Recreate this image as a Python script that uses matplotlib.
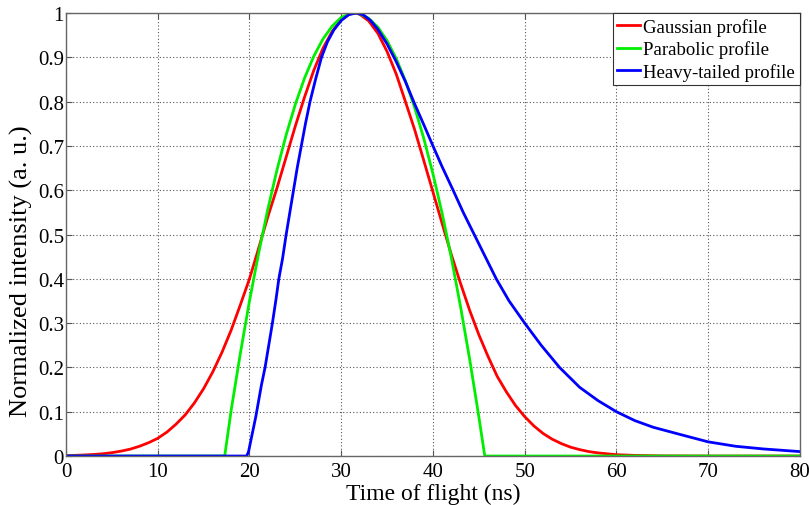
import matplotlib.pyplot as plt

plt.rcParams['font.family'] = ['Liberation Serif', 'DejaVu Serif']

# values
t_gauss = [0, 1, 2, 3, 4, 5, 6, 7, 8, 9, 10, 11, 12, 13, 14, 15, 16, 17, 18, 19, 20,
           21, 22, 23, 24, 25, 26, 27, 28, 29, 30, 31, 31.4, 32, 33, 34, 35, 36, 37,
           38, 39, 40, 41, 42, 43, 44, 45, 46, 47, 48, 49, 50, 51, 52, 53, 54, 55,
           56, 57, 58, 60, 62, 65, 70, 80]
gauss = [0.001, 0.0015, 0.0024, 0.0035, 0.005, 0.0076, 0.011, 0.0155, 0.022, 0.030,
         0.040, 0.054, 0.072, 0.093, 0.12, 0.152, 0.19, 0.234, 0.284, 0.341, 0.40,
         0.469, 0.54, 0.605, 0.675, 0.745, 0.81, 0.87, 0.92, 0.958, 0.985, 0.999, 1.0,
         0.9975, 0.982, 0.954, 0.913, 0.862, 0.80, 0.737, 0.667, 0.596, 0.525, 0.455,
         0.39, 0.329, 0.274, 0.225, 0.18, 0.145, 0.114, 0.089, 0.068, 0.051, 0.038,
         0.028, 0.020, 0.0144, 0.010, 0.007, 0.003, 0.0014, 0.0003, 0.0, 0.0]

t_parab = [0, 17.3, 18, 19, 20, 21, 22, 23, 24, 25, 26, 27, 28, 29, 30, 31, 31.45,
           32, 33, 34, 35, 36, 37, 38, 39, 40, 41, 42, 43, 44, 45, 45.65, 80]
parab = [0, 0, 0.103, 0.231, 0.35, 0.458, 0.557, 0.646, 0.725, 0.794, 0.853, 0.902,
         0.941, 0.970, 0.990, 0.999, 1.0,
         0.9985, 0.988, 0.968, 0.9375, 0.897, 0.847, 0.787, 0.717, 0.637, 0.548,
         0.448, 0.338, 0.219, 0.089, 0, 0]

t_heavy = [0, 19.7, 19.9, 20.1, 20.4, 20.7, 21.0, 21.3, 21.7, 22.1, 22.5, 22.9, 23.2,
           23.6, 24.0, 24.4, 24.8, 25.2, 25.65, 26.1, 26.6, 27.2, 27.85, 28.5, 29.2,
           30.0, 30.8, 31.6, 32.4, 33.2, 34.0, 35.0, 36.0, 37.0, 38.0, 39.0, 40.0,
           41.0, 42.2, 43.3, 44.5, 45.7, 46.9, 48.3, 50.0, 51.8, 53.8, 56.0, 58.0,
           60.0, 62.0, 64.0, 66.7, 70.0, 73.0, 76.0, 80.0]
heavy = [0, 0, 0.01, 0.03, 0.06, 0.09, 0.125, 0.16, 0.20, 0.25, 0.30, 0.355, 0.40,
         0.445, 0.50, 0.55, 0.60, 0.65, 0.70, 0.75, 0.80, 0.85, 0.90, 0.935, 0.962,
         0.983, 0.996, 1.0, 0.996, 0.983, 0.963, 0.93, 0.89, 0.845, 0.795, 0.748, 0.70,
         0.653, 0.60, 0.55, 0.50, 0.45, 0.40, 0.35, 0.30, 0.25, 0.20, 0.155, 0.125,
         0.10, 0.08, 0.065, 0.05, 0.032, 0.022, 0.016, 0.01]

x_ticks = [0, 10, 20, 30, 40, 50, 60, 70, 80]
y_ticks = [0, 0.1, 0.2, 0.3, 0.4, 0.5, 0.6, 0.7, 0.8, 0.9, 1]
y_tick_labels = ['0', '0.1', '0.2', '0.3', '0.4', '0.5', '0.6', '0.7', '0.8', '0.9', '1']

fig = plt.figure(figsize=(8.1, 5.06), dpi=100)
ax = fig.add_axes([0.0815, 0.0968, 0.906, 0.8755])

ax.plot(t_gauss, gauss, color='#ff0000', lw=2.0, label='Gaussian profile')
ax.plot(t_parab, parab, color='#00ee00', lw=2.0, label='Parabolic profile')
ax.plot(t_heavy, heavy, color='#0000ff', lw=2.0, label='Heavy-tailed profile')

ax.set_xlim(0, 80)
ax.set_ylim(0, 1)
ax.set_xticks(x_ticks)
ax.set_yticks(y_ticks)
ax.set_yticklabels(y_tick_labels)
ax.tick_params(direction='in', top=True, right=True, labelsize=15, length=4,
               color='#555555')
ax.tick_params(axis='x', pad=4.5)
ax.tick_params(axis='y', pad=1.5)
ax.grid(True, linestyle=(0, (1, 2)), color='#555555', linewidth=0.8)
for sp in ax.spines.values():
    sp.set_color('#666666')
    sp.set_linewidth(1.0)

ax.set_xlabel('Time of flight (ns)', fontsize=17, labelpad=1)
ax.set_ylabel('Normalized intensity (a. u.)', fontsize=19)
ax.yaxis.set_label_coords(-0.045, 0.42)

leg = ax.legend(loc='upper right', fontsize=13.5, fancybox=False, framealpha=1,
                edgecolor='#333333', borderaxespad=0, handlelength=1.2,
                handletextpad=0.2, borderpad=0.25, labelspacing=0.25)
leg.get_frame().set_linewidth(0.8)

fig.savefig('out.png', dpi=100)
